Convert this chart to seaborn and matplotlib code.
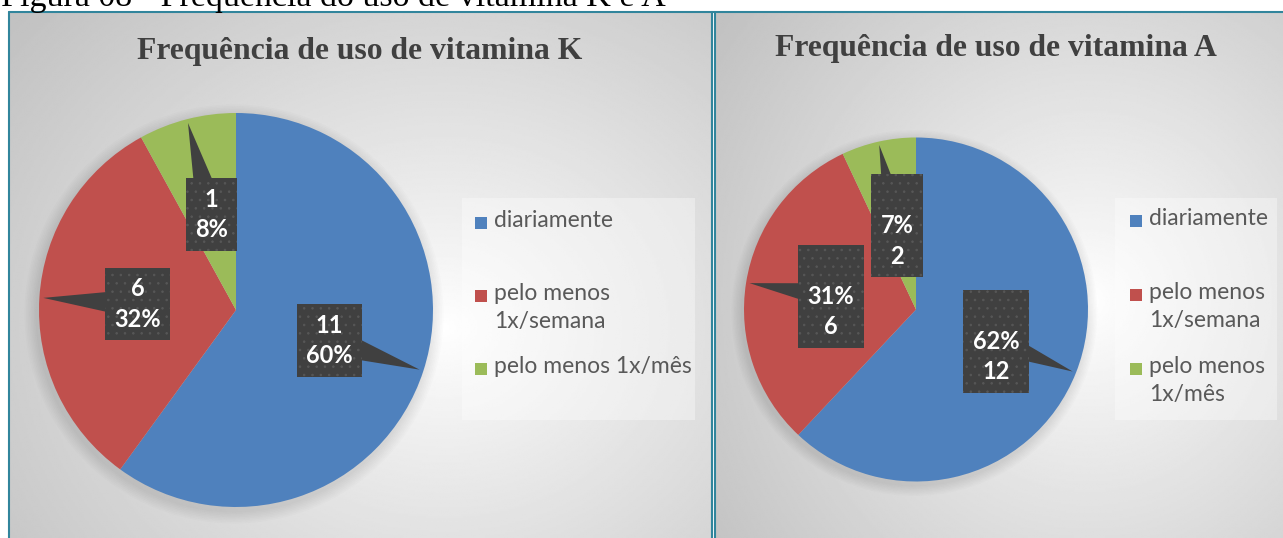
import numpy as np
import matplotlib.pyplot as plt
import seaborn as sns
from matplotlib.patches import Rectangle, Circle

# data
categories = ["diariamente", "pelo menos 1x/semana", "pelo menos 1x/mês"]
k_pct = [60, 32, 8]
k_count = [11, 6, 1]
a_pct = [62, 31, 7]
a_count = [12, 6, 2]
k_legend = ["diariamente", "pelo menos\n1x/semana", "pelo menos 1x/mês"]
a_legend = ["diariamente", "pelo menos\n1x/semana", "pelo menos\n1x/mês"]
k_title = "Frequência de uso de vitamina K"
a_title = "Frequência de uso de vitamina A"
caption = "Figura 08 - Frequência do uso de vitamina K e A"

sns.set_style("white")
plt.rcParams["font.family"] = ["Lato", "DejaVu Sans"]
plt.rcParams["hatch.linewidth"] = 0.6

colors = sns.color_palette(["#4f81bd", "#c0504d", "#9bbb59"])
W, H = 1283, 538
BORDER = "#31859c"
DARK = "#404040"

fig = plt.figure(figsize=(W / 100, H / 100), dpi=100)
bg = fig.add_axes([0, 0, 1, 1])
bg.axis("off")


def panel_background(x0, x1, y0, y1, cx, cy):
    xs = np.linspace(0, 1, 400)
    ys = np.linspace(0, 1, 300)
    X, Y = np.meshgrid(xs, ys)
    d = np.sqrt(((X - cx) / 0.8) ** 2 + ((Y - cy) / 0.9) ** 2)
    shade = 1 - 0.24 * np.clip(d, 0, 1) ** 0.9
    bg.imshow(shade, cmap="gray", vmin=0, vmax=1, extent=(x0, x1, y1, y0),
              origin="upper", aspect="auto", interpolation="bilinear", zorder=0)


panel_background(9, 711, 12, H, 0.62, 0.6)
panel_background(715, W, 12, H, 0.66, 0.55)
bg.set_xlim(0, W)
bg.set_ylim(H, 0)

# panel borders
bg.plot([9, W], [11.5, 11.5], color=BORDER, lw=1.5, zorder=2)
bg.plot([9, 9], [11.5, H], color=BORDER, lw=1.5, zorder=2)
bg.plot([711.5, 711.5], [11.5, H], color=BORDER, lw=1.5, zorder=2)
bg.plot([714.5, 714.5], [11.5, H], color=BORDER, lw=1.5, zorder=2)

# caption of the figure (cut at the top, as in the page scan)
bg.text(1, 6, caption, fontsize=24.5, family="Liberation Serif", color="black",
        va="baseline", ha="left", zorder=3)

# titles
bg.text(360, 59, k_title, fontsize=22.8, family="Liberation Serif", weight="bold",
        color=DARK, ha="center", va="baseline", zorder=3)
bg.text(996, 56, a_title, fontsize=22.8, family="Liberation Serif", weight="bold",
        color=DARK, ha="center", va="baseline", zorder=3)


def draw_legend(x0, x1, y0, y1, sq_x, txt_x, first_y, step, labels):
    bg.add_patch(Rectangle((x0, y0), x1 - x0, y1 - y0, facecolor="white",
                           alpha=0.35, edgecolor="none", zorder=2))
    for i, lab in enumerate(labels):
        y = first_y + i * step
        bg.add_patch(Rectangle((sq_x, y - 6), 12, 12, facecolor=colors[i],
                               edgecolor="none", zorder=3))
        bg.text(txt_x, y - 13, lab, fontsize=16.5, color="#595959", ha="left",
                va="top", linespacing=1.4, zorder=3)


draw_legend(462, 695, 198, 420, 475, 494, 223, 73, k_legend)
draw_legend(1115, 1277, 198, 420, 1130, 1149, 221, 74, a_legend)


def draw_pie(cx, cy, r, pct, labels):
    ax = fig.add_axes([(cx - r) / W, (H - cy - r) / H, 2 * r / W, 2 * r / H])
    for k in range(1, 9):
        ax.add_patch(Circle((-0.01, -0.02), 1 + 0.008 * k, facecolor="black",
                            alpha=0.012, edgecolor="none", clip_on=False, zorder=0))
    wedges, _ = ax.pie(pct, colors=colors, startangle=90, counterclock=False,
                       radius=1, wedgeprops=dict(linewidth=0))
    for w, lab in zip(wedges, labels):
        ang = np.deg2rad((w.theta1 + w.theta2) / 2)
        u = np.array([np.cos(ang), np.sin(ang)])
        n = np.array([-u[1], u[0]])
        c = 0.5 * u
        tip = 0.98 * u
        b1, b2 = c + 0.075 * n, c - 0.075 * n
        ax.fill([b1[0], tip[0], b2[0]], [b1[1], tip[1], b2[1]], color=DARK,
                lw=0, zorder=3)
        ax.text(c[0], c[1], lab, ha="center", va="center", color="white",
                fontsize=17, weight="bold", linespacing=1.4, zorder=4,
                bbox=dict(boxstyle="square,pad=0.4", facecolor=DARK,
                          edgecolor="#575757", lw=0, hatch=".."))
    ax.set_xlim(-1, 1)
    ax.set_ylim(-1, 1)
    ax.axis("off")
    return ax


draw_pie(236, 310, 197, k_pct, [f"{c}\n{p}%" for c, p in zip(k_count, k_pct)])
draw_pie(916, 309.5, 172, a_pct, [f"\n{p}%\n{c}" for c, p in zip(a_count, a_pct)])

plt.savefig("out.png", dpi=100)
